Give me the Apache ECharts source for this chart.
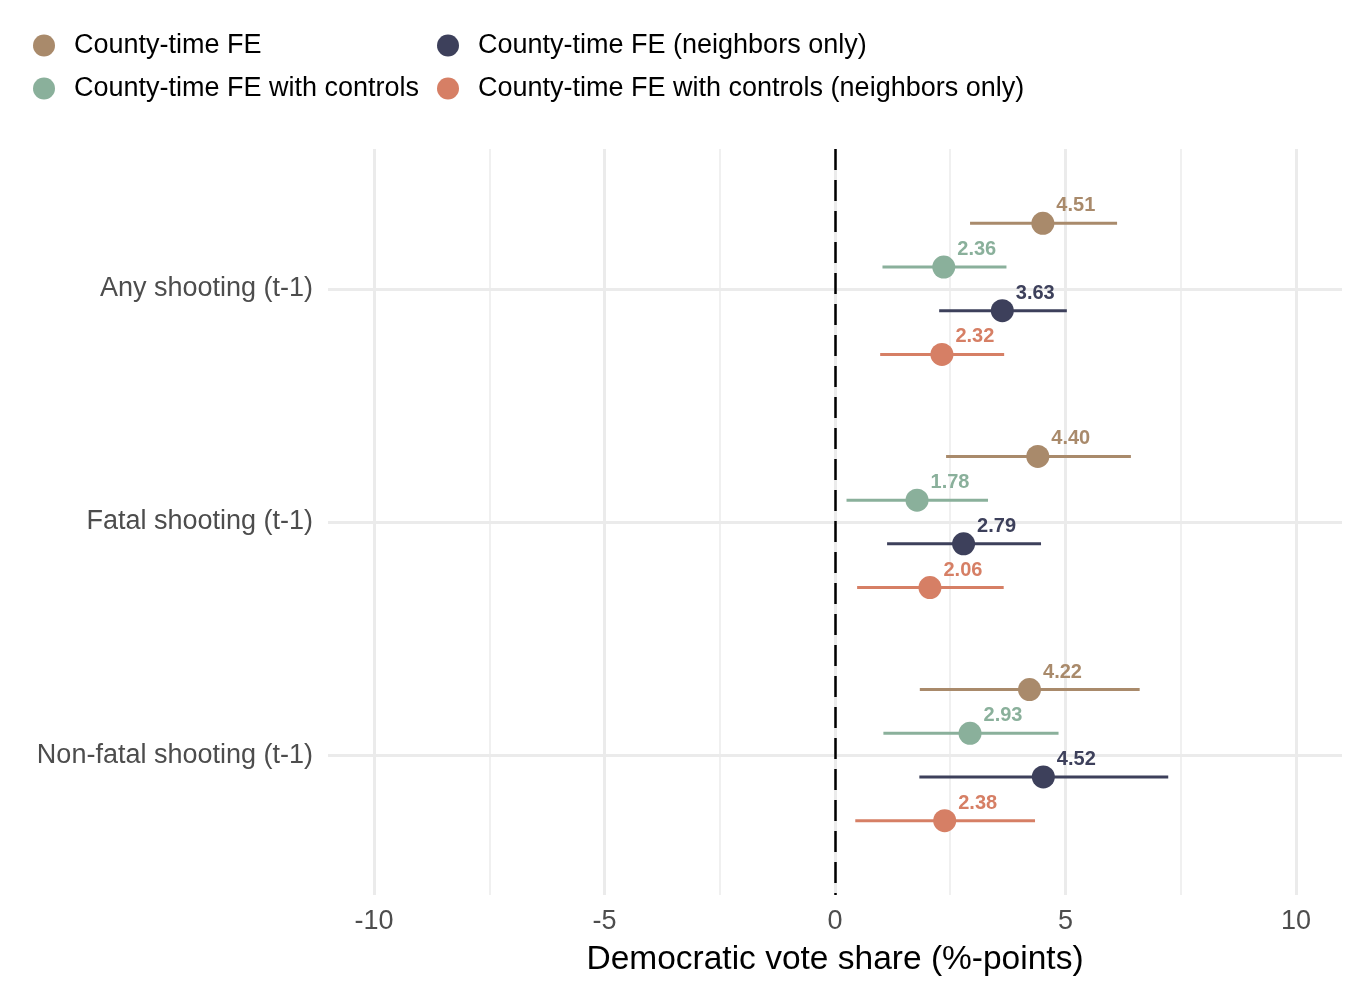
<!DOCTYPE html>
<html>
<head>
<meta charset="utf-8">
<script src="https://cdn.jsdelivr.net/npm/echarts@6/dist/echarts.min.js"></script>
<style>
  html, body { margin: 0; padding: 0; background: #fff; }
  #chart { width: 1354px; height: 986px; }
</style>
</head>
<body>
<div id="chart"></div>
<script>
// ---- Data ----
const categories = ['Any shooting (t-1)', 'Fatal shooting (t-1)', 'Non-fatal shooting (t-1)'];
const models = ['County-time FE', 'County-time FE with controls', 'County-time FE (neighbors only)', 'County-time FE with controls (neighbors only)'];

const estFE      = [4.51, 4.40, 4.22];
const loFE       = [2.93, 2.41, 1.84];
const hiFE       = [6.12, 6.42, 6.61];

const estCtrl    = [2.36, 1.78, 2.93];
const loCtrl     = [1.03, 0.25, 1.05];
const hiCtrl     = [3.72, 3.32, 4.85];

const estNb      = [3.63, 2.79, 4.52];
const loNb       = [2.26, 1.13, 1.83];
const hiNb       = [5.03, 4.47, 7.23];

const estCtrlNb  = [2.32, 2.06, 2.38];
const loCtrlNb   = [0.98, 0.48, 0.44];
const hiCtrlNb   = [3.67, 3.66, 4.34];

const xTickLabels = [-10, -5, 0, 5, 10];
const xMinorTicks = [-7.5, -2.5, 2.5, 7.5];

// ---- Styling / layout ----
const colors = ['#A98A6B', '#8AB09B', '#3D405B', '#D67F65'];
const dodgeWidth = 0.75;
const nGroups = 4;
const offsets = [0, 1, 2, 3].map(i => (i - (nGroups - 1) / 2) * dodgeWidth / nGroups);
const FONT = '"Liberation Sans", Arial, Helvetica, sans-serif';

const est = [estFE, estCtrl, estNb, estCtrlNb];
const lo = [loFE, loCtrl, loNb, loCtrlNb];
const hi = [hiFE, hiCtrl, hiNb, hiCtrlNb];

const chart = echarts.init(document.getElementById('chart'), null, { renderer: 'canvas' });

const series = [];

// gridlines host
series.push({
  type: 'scatter',
  name: '__grid',
  data: [],
  z: 0,
  silent: true,
  markLine: {
    silent: true,
    z: 0,
    symbol: 'none',
    animation: false,
    label: { show: false },
    emphasis: { disabled: true },
    data: [
      ...xTickLabels.map(v => ({ xAxis: v, lineStyle: { color: '#EBEBEB', width: 3, type: 'solid' } })),
      ...xMinorTicks.map(v => ({ xAxis: v, lineStyle: { color: '#EBEBEB', width: 1.5, type: 'solid' } })),
      ...categories.map((c, i) => ({ yAxis: i + 1, lineStyle: { color: '#EBEBEB', width: 3, type: 'solid' } }))
    ]
  }
});
// zero reference line
series.push({
  type: 'scatter',
  name: '__zero',
  data: [],
  z: 1,
  silent: true,
  markLine: {
    silent: true,
    z: 1,
    symbol: 'none',
    animation: false,
    label: { show: false },
    emphasis: { disabled: true },
    lineStyle: { color: '#000000', width: 2.5, type: [21, 10] },
    data: [{ xAxis: 0 }]
  }
});

models.forEach((m, k) => {
  series.push({
    type: 'custom',
    name: '__ci' + k,
    z: 2,
    silent: true,
    animation: false,
    encode: { x: [0, 1], y: 2 },
    data: categories.map((c, i) => [lo[k][i], hi[k][i], i + 1 + offsets[k]]),
    renderItem: (params, api) => {
      const y = api.value(2);
      const p1 = api.coord([api.value(0), y]);
      const p2 = api.coord([api.value(1), y]);
      return {
        type: 'line',
        shape: { x1: p1[0], y1: p1[1], x2: p2[0], y2: p2[1] },
        style: { stroke: colors[k], lineWidth: 3, lineCap: 'butt' }
      };
    }
  });
  series.push({
    type: 'scatter',
    name: m,
    z: 3,
    animation: false,
    symbol: 'circle',
    symbolSize: 23,
    itemStyle: { color: colors[k], opacity: 1 },
    data: categories.map((c, i) => [est[k][i], i + 1 + offsets[k]]),
    label: {
      show: true,
      position: [25, -6],
      align: 'left',
      verticalAlign: 'middle',
      formatter: p => p.value[0].toFixed(2),
      color: colors[k],
      textBorderWidth: 0,
      fontFamily: FONT,
      fontWeight: 'bold',
      fontSize: 20
    }
  });
});

const legendCommon = {
  orient: 'vertical',
  top: 32,
  padding: 0,
  itemWidth: 22,
  itemHeight: 22,
  itemGap: 16,
  icon: 'circle',
  selectedMode: false,
  textStyle: { fontFamily: FONT, fontSize: 27, color: '#000000', padding: [0, 0, 0, 14] }
};

const option = {
  backgroundColor: '#ffffff',
  animation: false,
  textStyle: { fontFamily: FONT },
  color: colors,
  legend: [
    Object.assign({}, legendCommon, { left: 33, data: [models[0], models[1]] }),
    Object.assign({}, legendCommon, { left: 437, data: [models[2], models[3]] })
  ],
  grid: { left: 328, right: 12, top: 149, bottom: 91, containLabel: false },
  xAxis: {
    type: 'value',
    min: -11,
    max: 11,
    interval: 1,
    axisLine: { show: false },
    axisTick: { show: false },
    splitLine: { show: false },
    axisLabel: {
      margin: 13,
      fontSize: 27,
      color: '#4D4D4D',
      fontFamily: FONT,
      formatter: v => (xTickLabels.indexOf(Math.round(v)) >= 0 && Math.abs(v - Math.round(v)) < 1e-6) ? String(Math.round(v)) : ''
    },
    name: 'Democratic vote share (%-points)',
    nameLocation: 'middle',
    nameGap: 48,
    nameTextStyle: { fontSize: 33.5, color: '#000000', fontFamily: FONT }
  },
  yAxis: {
    type: 'value',
    inverse: true,
    min: 0.4,
    max: 3.6,
    interval: 0.2,
    axisLine: { show: false },
    axisTick: { show: false },
    splitLine: { show: false },
    axisLabel: {
      margin: 15,
      fontSize: 27,
      color: '#4D4D4D',
      fontFamily: FONT,
      padding: [11, 0, 0, 0],
      formatter: v => {
        const r = Math.round(v);
        if (Math.abs(v - r) < 1e-6 && r >= 1 && r <= categories.length) return categories[r - 1];
        return '';
      }
    }
  },
  series: series
};

chart.setOption(option);
</script>
</body>
</html>
